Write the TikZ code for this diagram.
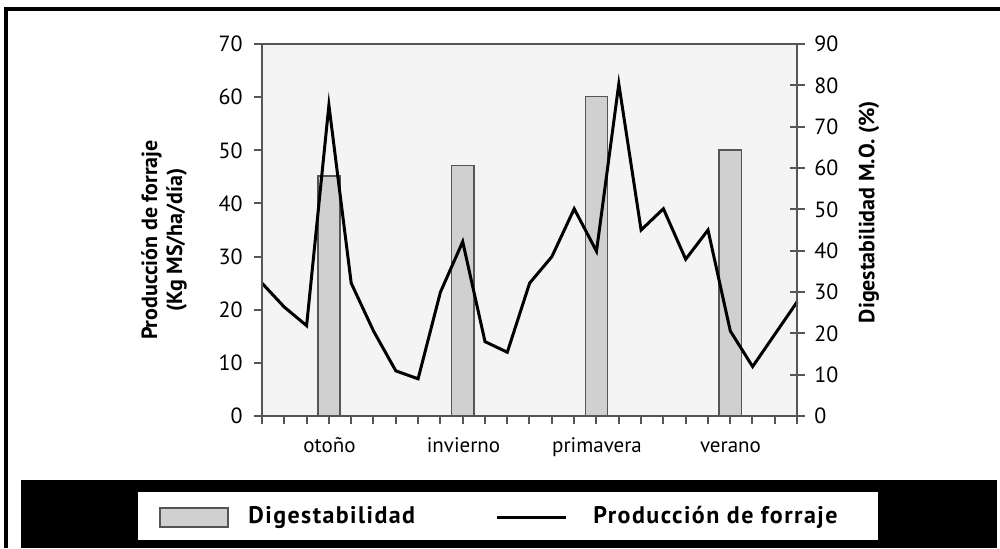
\documentclass[tikz,border=0pt]{standalone}
\usepackage{fontspec}
\setmainfont{PT Sans}
\newfontfamily\legendfont[LetterSpace=6]{PT Sans}
\usetikzlibrary{positioning}
\definecolor{plotbg}{HTML}{F4F4F4}
\definecolor{barfill}{HTML}{D0D0D0}
\definecolor{axisgray}{HTML}{555555}
\tikzset{axisline/.style={draw=axisgray, line width=1pt}}
\tikzset{barbox/.style={draw=axisgray, fill=barfill, line width=0.8pt}}
\tikzset{ticklabel/.style={font=\fontsize{11}{13}\selectfont, inner sep=0pt}}
\tikzset{seasonlabel/.style={font=\fontsize{10.5}{12}\selectfont, inner sep=0pt, anchor=base}}
\tikzset{axistitle/.style={font=\bfseries\fontsize{11}{12.5}\selectfont, rotate=90, align=center, inner sep=0pt}}
\tikzset{legendtext/.style={font=\legendfont\bfseries\fontsize{12}{14}\selectfont, anchor=west, inner sep=0pt}}
\tikzset{serie/.style={line width=1.5pt, line join=miter}}

\begin{document}
\begin{tikzpicture}[x=0.5pt, y=-0.5pt]
	\useasboundingbox (0,0) rectangle (1000,548);
	% outer frame
	\draw[line width=2pt] (5.5,548) -- (5.5,9) -- (1000,9);
	
	% plot area
	\fill[plotbg] (262,44) rectangle (797,416);
	
	% bars (right axis)
	\begin{scope}[shift={(262,416)}, x=11.15pt, y=2.0665pt]
		\foreach \i/\d in {3/58.1, 9/60.6, 15/77.3, 21/64.4}
			\draw[barbox] (\i-0.5,0) rectangle (\i+0.5,\d);
	\end{scope}
	
	% production line (left axis)
	\begin{scope}[shift={(262,416)}, x=11.15pt, y=2.657pt]
		\draw[serie] plot coordinates {(0,25) (1,20.5) (2,17) (3,58.5) (4,25) (5,16) (6,8.5) (7,7)
			(8,23.3) (9,32.8) (10,14) (11,12) (12,25) (13,30) (14,39) (15,31)
			(16,62.5) (17,35) (18,39) (19,29.5) (20,35) (21,16) (22,9.3) (23,15.4) (24,21.5)};
	\end{scope}
	
	% axes
	\draw[axisline] (262,44) rectangle (797,416);
	\foreach \v in {0,10,...,70}{
		\draw[axisline] (254,{416-5.314*\v}) -- (262,{416-5.314*\v});
		\node[ticklabel, anchor=east] (yl\v) at (243,{416-5.314*\v}) {\v};
	}
	\foreach \v in {0,10,...,90}{
		\draw[axisline] (790,{416-4.133*\v}) -- (805,{416-4.133*\v});
		\node[ticklabel, anchor=west] (yr\v) at (814,{416-4.133*\v}) {\v};
	}
	\foreach \i in {0,...,24}
		\draw[axisline] ({262+22.29*\i},416) -- ({262+22.29*\i},424);
	
	% seasons
	\node[seasonlabel] (oto) at (329.5,452) {otoño};
	\node[seasonlabel] (inv) at (463.5,452) {invierno};
	\node[seasonlabel] (pri) at (597,452) {primavera};
	\node[seasonlabel] (ver) at (730.5,452) {verano};
	
	% axis titles
	\node[axistitle] (ytitle) at (164,240) {Producción de forraje\\(Kg MS/ha/día)};
	\node[axistitle] (y2title) at (869,212) {Digestabilidad M.O. (\%)};
	
	% legend
	\fill (21,480) rectangle (997,548);
	\fill[white] (138,492) rectangle (878,540);
	\draw[barbox, line width=1.2pt] (160,508) rectangle (228,527);
	\node[legendtext] (ldig) at (248,517) {Digestabilidad};
	\coordinate (l1) at (497,517);
	\coordinate (l2) at (566,517);
	\draw[serie] (l1) -- (l2);
	\node[legendtext] (lprod) at (593,517) {Producción de forraje};
\end{tikzpicture}
\end{document}
